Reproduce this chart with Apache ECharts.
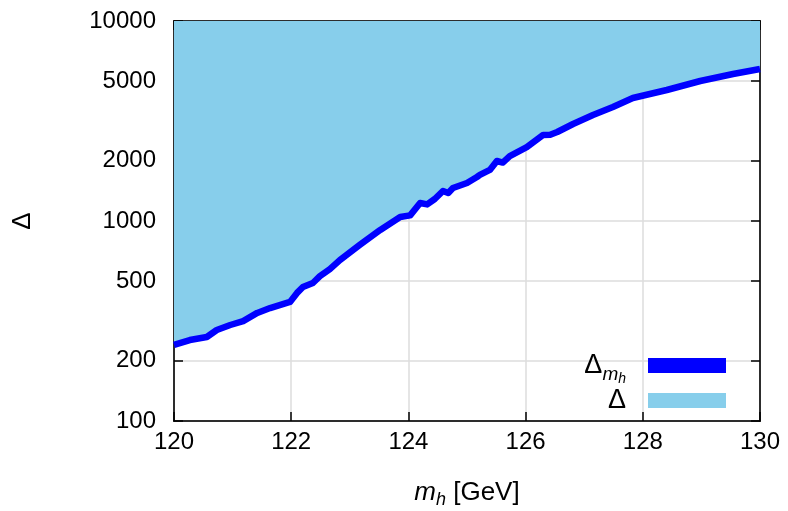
<!DOCTYPE html>
<html>
<head>
  <meta charset="utf-8">
</head>
<body style="margin: 0">
  <div id="container" style="width: 788px; height: 511px"></div>

  <script type="text/javascript" src="https://cdn.jsdelivr.net/npm/echarts@6/dist/echarts.min.js"></script>

  <script type="text/javascript">
    // curve (m_h in GeV, Delta)
    var mh = [
      120.00, 120.27, 120.56, 120.73, 120.96, 121.18, 121.42, 121.64, 121.98, 122.10,
      122.20, 122.37, 122.49, 122.66, 122.83, 123.17, 123.52, 123.86, 124.03, 124.20,
      124.32, 124.45, 124.59, 124.68, 124.76, 125.00, 125.17, 125.22, 125.39, 125.51,
      125.61, 125.73, 126.02, 126.30, 126.42, 126.54, 126.81, 127.15, 127.49, 127.83,
      128.41, 128.98, 129.54, 130.00
    ];
    var delta = [
      240, 254, 263, 285, 302, 316, 347, 367, 394, 437,
      468, 490, 530, 575, 638, 759, 902, 1047, 1067, 1230,
      1211, 1288, 1413, 1380, 1462, 1549, 1660, 1700, 1800, 1995,
      1960, 2113, 2344, 2692, 2700, 2786, 3055, 3388, 3715, 4121,
      4519, 5012, 5433, 5754
    ];
    var xTicks = [120, 122, 124, 126, 128, 130];
    var yTicks = [100, 200, 500, 1000, 2000, 5000, 10000];

    var points = mh.map(function (m, i) { return [m, delta[i]]; });

    var font = 'Liberation Sans';
    var dark = '#000';
    var gridColor = '#dcdcdc';
    var tickStyle = { show: true, inside: true, length: 9, lineStyle: { color: dark, width: 1.5 } };

    var dom = document.getElementById('container');
    var myChart = echarts.init(dom, null, { renderer: 'canvas' });

    var option = {
      backgroundColor: '#fff',
      animation: false,
      textStyle: { fontFamily: font },
      grid: {
        left: 174, right: 28, top: 21, bottom: 90,
        outerBoundsMode: 'none', containLabel: false,
        show: true, borderColor: dark, borderWidth: 1.5, backgroundColor: 'transparent'
      },
      legend: [
        {
          data: [{ name: 'Dmh', itemStyle: { color: '#0000ff' } }],
          orient: 'vertical', right: 62, top: 352, padding: 0,
          icon: 'rect', itemWidth: 78, itemHeight: 15, align: 'right',
          itemStyle: { borderWidth: 0 },
          formatter: function () { return '{a|Δ}{b|m}{c|h}'; },
          textStyle: {
            padding: [0, 17, 0, 0], color: dark,
            rich: {
              a: { fontSize: 27, fontFamily: font, color: dark },
              b: { fontSize: 19, fontStyle: 'italic', fontFamily: font, color: dark, padding: [18, 0, 0, 0] },
              c: { fontSize: 14, fontStyle: 'italic', fontFamily: font, color: dark, padding: [28, 0, 0, 0] }
            }
          }
        },
        {
          data: [{ name: 'D', itemStyle: { color: '#87ceeb' } }],
          orient: 'vertical', right: 62, top: 387, padding: 0,
          icon: 'rect', itemWidth: 78, itemHeight: 15, align: 'right',
          itemStyle: { borderWidth: 0 },
          formatter: function () { return 'Δ'; },
          textStyle: { fontSize: 27, color: dark, padding: [0, 17, 0, 0] }
        }
      ],
      xAxis: [
        {
          type: 'value', min: 120, max: 130, interval: 2,
          name: '{i|m}{s|h} [GeV]', nameLocation: 'middle', nameGap: 56,
          nameTextStyle: {
            fontSize: 26, color: dark,
            rich: {
              i: { fontSize: 26, fontStyle: 'italic', fontFamily: font, color: dark },
              s: { fontSize: 18, fontStyle: 'italic', fontFamily: font, color: dark, padding: [14, 0, 0, 0] }
            }
          },
          axisLine: { show: true, lineStyle: { color: dark, width: 1.5 } },
          axisTick: tickStyle,
          axisLabel: { fontSize: 24, color: dark, margin: 9 },
          splitLine: { show: true, lineStyle: { color: gridColor, width: 1.5 } }
        },
        {
          type: 'value', min: 120, max: 130, interval: 2, position: 'top',
          axisLine: { show: true, lineStyle: { color: dark, width: 1.5 } },
          axisTick: tickStyle,
          axisLabel: { show: false },
          splitLine: { show: false }
        }
      ],
      yAxis: [
        {
          type: 'log', logBase: 10, min: 100, max: 10000,
          name: 'Δ', nameLocation: 'middle', nameGap: 138,
          nameTextStyle: { fontSize: 26, color: dark },
          axisLine: { show: true, lineStyle: { color: dark, width: 1.5 } },
          axisTick: Object.assign({ customValues: yTicks }, tickStyle),
          axisLabel: {
            fontSize: 24, color: dark, margin: 18, customValues: yTicks,
            formatter: function (v) { return String(Math.round(v)); }
          },
          splitLine: { show: true, lineStyle: { color: gridColor, width: 1.5 } }
        },
        {
          type: 'log', logBase: 10, min: 100, max: 10000, position: 'right',
          axisLine: { show: true, lineStyle: { color: dark, width: 1.5 } },
          axisTick: Object.assign({ customValues: yTicks }, tickStyle),
          axisLabel: { show: false },
          splitLine: { show: false }
        }
      ],
      series: [
        {
          name: 'D',
          type: 'line',
          data: points,
          showSymbol: false,
          symbol: 'none',
          itemStyle: { color: '#87ceeb' },
          lineStyle: { width: 0 },
          areaStyle: { origin: 'end', color: '#87ceeb', opacity: 1 },
          z: 2
        },
        {
          name: 'Dmh',
          type: 'line',
          data: points,
          showSymbol: false,
          symbol: 'none',
          itemStyle: { color: '#0000ff' },
          lineStyle: { width: 6.5, color: '#0000ff', join: 'round' },
          z: 3
        }
      ]
    };

    myChart.setOption(option);
    window.addEventListener('resize', myChart.resize);
  </script>
</body>
</html>
